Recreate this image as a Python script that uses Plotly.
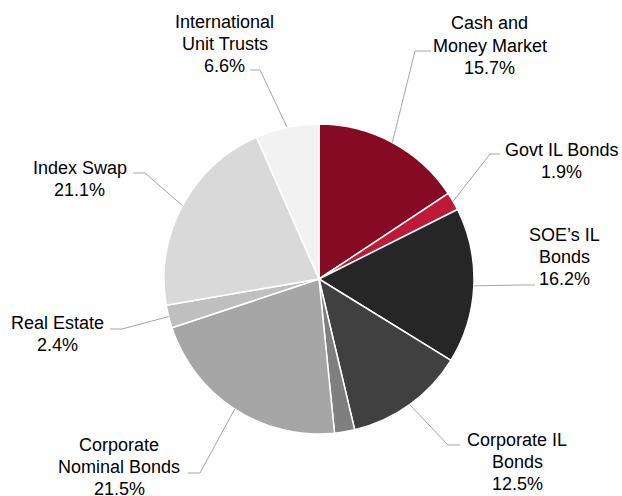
import math
import plotly.graph_objects as go

# ---- data ----
categories = ["Cash and Money Market", "Govt IL Bonds", "SOE\u2019s IL Bonds",
              "Corporate IL Bonds", "Other", "Corporate Nominal Bonds",
              "Real Estate", "Index Swap", "International Unit Trusts"]
label_lines = [["Cash and", "Money Market"], ["Govt IL Bonds"], ["SOE\u2019s IL", "Bonds"],
               ["Corporate IL", "Bonds"], None, ["Corporate", "Nominal Bonds"],
               ["Real Estate"], ["Index Swap"], ["International", "Unit Trusts"]]
shares = [15.7, 1.9, 16.2, 12.5, 2.1, 21.5, 2.4, 21.1, 6.6]

# ---- styling / layout ----
colors = ["#870A24", "#BE1A37", "#262626", "#404040", "#7F7F7F",
          "#A6A6A6", "#BFBFBF", "#D9D9D9", "#F2F2F2"]
W, H = 622, 496
CX, CY, R = 319, 279, 155     # in window pixels
LINE_GAP = 22                 # px between text lines
# label centre (px), elbow (px), line end near text (px)
label_pos = [(489.5, 45.5), (561.7, 161), (564.5, 256.5), (517, 461.5), None,
             (119, 467), (57, 334), (79.5, 179), (224.5, 44)]
elbows = [(415, 51), (490, 154), (520, 285), (448, 445), None,
          (200, 473), (122, 329), (145, 173), (260, 70)]
ends = [(431, 51), (500, 154), (535, 285), (460, 445), None,
        (188, 473), (110, 329), (133, 173), (250, 70)]

FONT = dict(family="Liberation Sans, Arial, sans-serif", size=18, color="#000000")


def px(x, y):
    return x / W, 1 - y / H


x0, y1 = px(CX - R, CY - R)
x1, y0 = px(CX + R, CY + R)
fig = go.Figure(go.Pie(
    labels=categories, values=shares, sort=False, direction="clockwise",
    rotation=0, textinfo="none", hoverinfo="label+percent",
    marker=dict(colors=colors, line=dict(color="#FFFFFF", width=1.5)),
    domain=dict(x=[x0, x1], y=[y0, y1]),
    showlegend=False,
))

total = sum(shares)
cum = 0.0
shapes, annotations = [], []
for i, v in enumerate(shares):
    mid = (cum + v / 2) / total * 2 * math.pi
    cum += v
    if label_lines[i] is None:
        continue
    ex, ey = CX + R * math.sin(mid), CY - R * math.cos(mid)
    pts = [px(ex, ey), px(*elbows[i]), px(*ends[i])]
    path = "M {} {} L {} {} L {} {}".format(pts[0][0], pts[0][1], pts[1][0], pts[1][1],
                                            pts[2][0], pts[2][1])
    shapes.append(dict(type="path", xref="paper", yref="paper", path=path,
                       line=dict(color="#A6A6A6", width=1)))
    lines = label_lines[i] + [f"{v:.1f}%"]
    n = len(lines)
    cx_, cy_ = label_pos[i]
    for k, t in enumerate(lines):
        lx, ly = px(cx_, cy_ + (k - (n - 1) / 2) * LINE_GAP)
        annotations.append(dict(x=lx, y=ly, xref="paper", yref="paper", showarrow=False,
                                xanchor="center", yanchor="middle", align="center",
                                text=t, font=FONT))

fig.update_layout(width=W, height=H, margin=dict(l=0, r=0, t=0, b=0),
                  paper_bgcolor="#FFFFFF", plot_bgcolor="#FFFFFF",
                  shapes=shapes, annotations=annotations)
fig.write_html("out.html", config={"displayModeBar": False},
               post_script="document.body.style.margin='0px';document.body.style.overflow='hidden';")
